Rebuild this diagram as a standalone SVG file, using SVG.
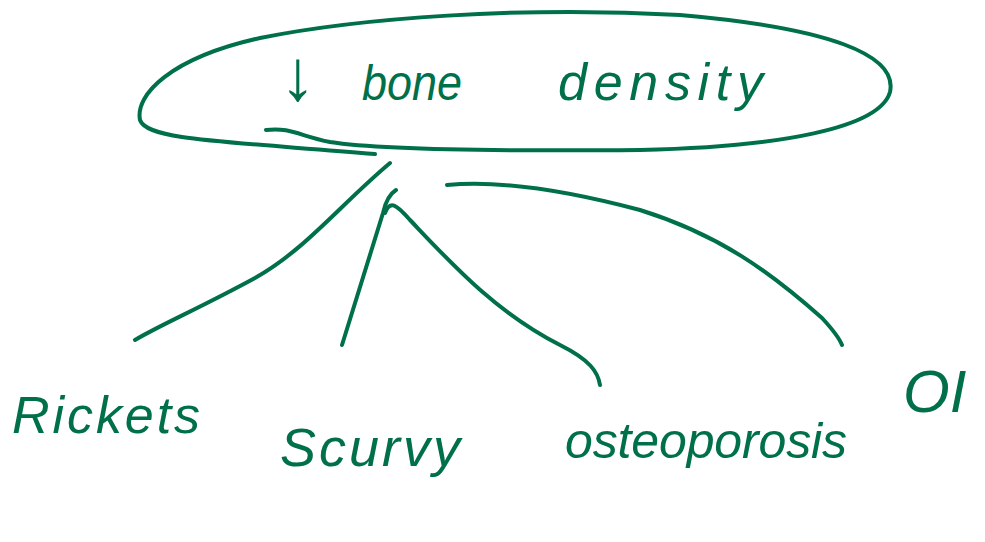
<svg xmlns="http://www.w3.org/2000/svg" width="985" height="542" viewBox="0 0 985 542">
<style>
.ink{fill:none;stroke:#00704a;stroke-width:4;stroke-linecap:round;stroke-linejoin:round}
.lbl{fill:#00704a;font-family:"Liberation Sans",Arial,sans-serif;font-style:italic}
</style>
<rect width="985" height="542" fill="#ffffff"/>
<g id="root">
<path class="ink" d="M266,130 C290,127 300,136 330,142 C380,150 520,151 640,150 C780,147 880,128 890,92 C898,55 830,28 680,15 C520,6 360,18 260,38 C170,58 135,95 140,120 C147,140 220,141 375,154"/>
<text class="lbl" y="100"><tspan x="280" font-size="72">↓</tspan><tspan x="362" font-size="50" textLength="100" lengthAdjust="spacingAndGlyphs">bone</tspan><tspan x="558" font-size="52" textLength="205" lengthAdjust="spacing">density</tspan></text>
</g>
<g id="connectors">
<path class="ink" d="M390,163 C340,205 305,250 255,278 C200,308 160,325 135,340"/>
<path class="ink" d="M396,190 C388,195 385,204 383,213 L342,345"/>
<path class="ink" d="M385,213 C390,200 396,204 410,220 C450,262 495,312 560,345 C590,360 598,372 600,385"/>
<path class="ink" d="M447,185 C500,180 565,190 640,210 C720,235 770,272 822,318 C835,332 840,340 842,345"/>
</g>
<g id="rickets"><text class="lbl" x="12" y="433" font-size="52" textLength="188" lengthAdjust="spacing">Rickets</text></g>
<g id="scurvy"><text class="lbl" x="280" y="466" font-size="54" textLength="180" lengthAdjust="spacing">Scurvy</text></g>
<g id="osteoporosis"><text class="lbl" x="565" y="458" font-size="50" textLength="282" lengthAdjust="spacing">osteoporosis</text></g>
<g id="oi"><text class="lbl" x="903" y="412" font-size="60">OI</text></g>
</svg>
